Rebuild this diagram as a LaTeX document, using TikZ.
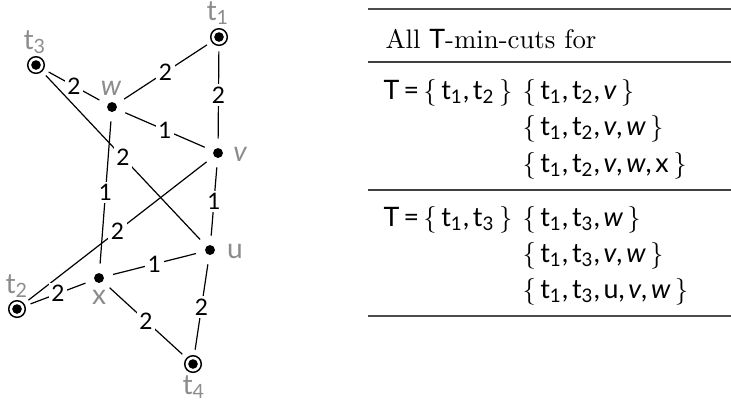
\documentclass[tikz,border=0pt]{standalone}
\usepackage{fontspec}
\newfontfamily\ef{Lato}
\newcommand\mt[1]{t\textsubscript{#1}}
\newcommand\mset[1]{$\{\,${\ef #1}$\,\}$}
\newcommand\cm{,\kern1.4pt}
\newcommand\iv{{\itshape v}}
\newcommand\iw{{\itshape w}}
\newcommand\meq{\kern1.6pt{\ef =}\kern1.6pt}
\newcommand\msz{\fontsize{10}{12}\selectfont}
\begin{document}
\begin{tikzpicture}[x=0.3735pt,y=-0.3735pt,
  vtx/.style={circle,inner sep=0pt,minimum size=10.4pt,
    path picture={\fill (path picture bounding box.center) circle (1.85pt);}},
  term/.style={circle,inner sep=0pt,minimum size=10.4pt,
    path picture={\fill (path picture bounding box.center) circle (1.8pt);
      \draw[line width=0.55pt] (path picture bounding box.center) circle (3.1pt);}},
  edg/.style={line width=0.45pt},
  wgt/.style={fill=white,inner sep=0.9pt,font=\ef\fontsize{8.5}{10}\selectfont},
  lbl/.style={text=black!45,inner sep=0pt,font=\ef\fontsize{10.5}{12}\selectfont},
  txt/.style={anchor=base west,inner sep=0pt,font=\msz},
  toprule/.style={line width=0.8pt,draw=black!70},
  midrule/.style={line width=0.5pt,draw=black!75}
]
\useasboundingbox (0,0) rectangle (731,401);
% vertices
\node[term] (t1) at (219,37) {};
\node[term] (t3) at (36,65) {};
\node[vtx] (w) at (112,107) {};
\node[vtx] (v) at (218,153) {};
\node[vtx] (u) at (210,250) {};
\node[vtx] (x) at (99,278) {};
\node[term] (t2) at (17,309) {};
\node[term] (t4) at (193,364) {};
% vertex labels
\node[lbl] (lt1) at (218,13) {\mt1};
\node[lbl] (lt3) at (35,42) {\mt3};
\node[lbl] (lw) at (111,88) {\iw};
\node[lbl] (lv) at (240,154) {\iv};
\node[lbl] (lu) at (235,251) {u};
\node[lbl] (lx) at (99,297) {x};
\node[lbl] (lt2) at (17,286) {\mt2};
\node[lbl] (lt4) at (194,387) {\mt4};
% edges
\draw[edg] (t3) -- node[wgt]{2} (w);
\draw[edg] (w) -- node[wgt]{2} (t1);
\draw[edg] (t1) -- node[wgt]{2} (v);
\draw[edg] (w) -- node[wgt]{1} (v);
\draw[edg] (t3) -- node[wgt]{2} (u);
\draw[edg] (w) -- node[wgt]{1} (x);
\draw[edg] (v) -- node[wgt]{2} (t2);
\draw[edg] (v) -- node[wgt]{1} (u);
\draw[edg] (x) -- node[wgt]{1} (u);
\draw[edg] (t2) -- node[wgt]{2} (x);
\draw[edg] (x) -- node[wgt]{2} (t4);
\draw[edg] (u) -- node[wgt]{2} (t4);
% table
\coordinate (r1a) at (368,9);   \coordinate (r1b) at (731,9);
\coordinate (r2a) at (368,62);  \coordinate (r2b) at (731,62);
\coordinate (r3a) at (368,190); \coordinate (r3b) at (731,190);
\coordinate (r4a) at (368,316); \coordinate (r4b) at (731,316);
\draw[toprule] (r1a) -- (r1b);
\draw[midrule] (r2a) -- (r2b);
\draw[midrule] (r3a) -- (r3b);
\draw[toprule] (r4a) -- (r4b);
\node[txt] (hdr) at (385,48) {All {\ef T}-min-cuts for};
\node[txt] (ta) at (383,99) {{\ef T}\meq\mset{\mt1\cm\mt2}};
\node[txt] (a1) at (522,99) {\mset{\mt1\cm\mt2\cm\iv}};
\node[txt] (a2) at (522,135) {\mset{\mt1\cm\mt2\cm\iv\cm\iw}};
\node[txt] (a3) at (522,172) {\mset{\mt1\cm\mt2\cm\iv\cm\iw\cm x}};
\node[txt] (tb) at (383,226) {{\ef T}\meq\mset{\mt1\cm\mt3}};
\node[txt] (b1) at (522,226) {\mset{\mt1\cm\mt3\cm\iw}};
\node[txt] (b2) at (522,262) {\mset{\mt1\cm\mt3\cm\iv\cm\iw}};
\node[txt] (b3) at (522,298) {\mset{\mt1\cm\mt3\cm u\cm\iv\cm\iw}};
\end{tikzpicture}
\end{document}
